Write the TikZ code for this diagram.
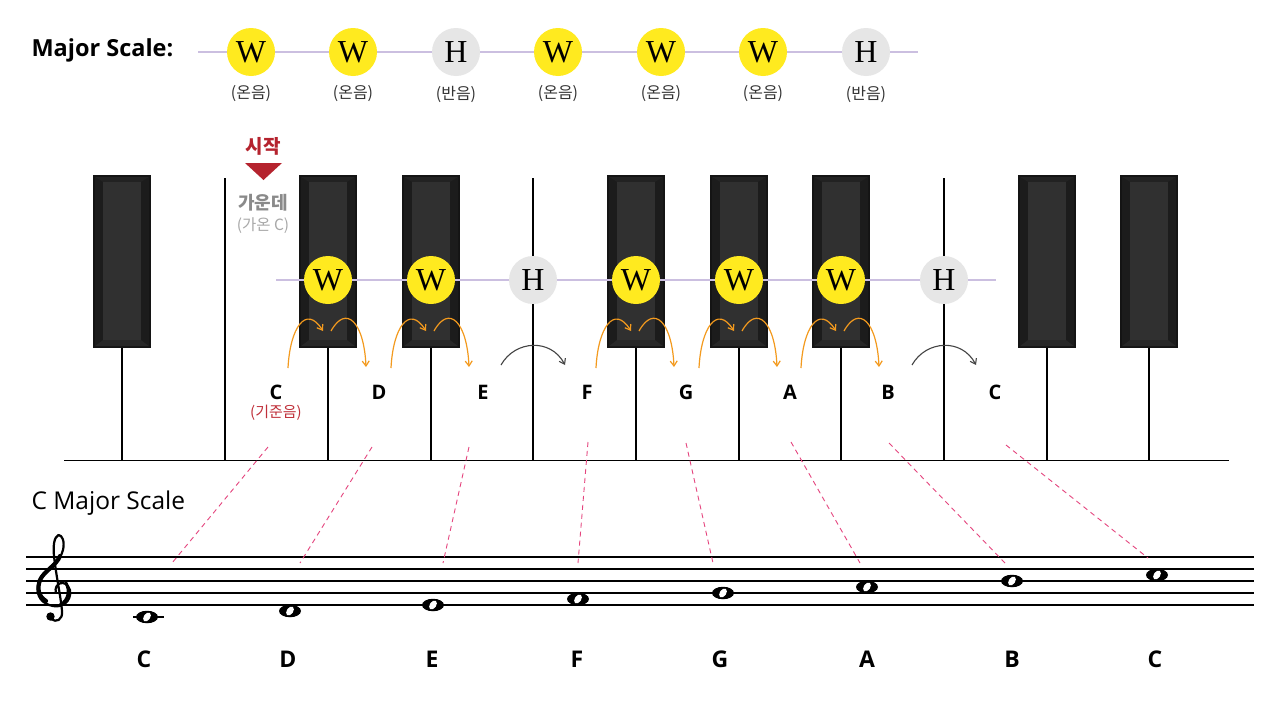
\documentclass[tikz,border=0pt]{standalone}
\usepackage{fontspec}
\setmainfont{Noto Sans CJK KR}
\newfontfamily\serifW{Liberation Serif}
\newfontfamily\lat{Open Sans}
\usetikzlibrary{arrows.meta,shapes.geometric}
\definecolor{yel}{HTML}{FFEA1F}
\definecolor{hgray}{HTML}{E6E6E6}
\definecolor{lav}{HTML}{CBBFE0}
\definecolor{startred}{HTML}{B5232E}
\definecolor{basered}{HTML}{C0303A}
\definecolor{midgray}{HTML}{8A8A8A}
\definecolor{lightgray}{HTML}{A8A8A8}
\definecolor{pinkdash}{HTML}{E5457E}
\definecolor{orng}{HTML}{F39A1E}
\definecolor{arcgray}{HTML}{444444}
\definecolor{keyout}{HTML}{141414}
\definecolor{keyside}{HTML}{1C1C1C}
\definecolor{keytop}{HTML}{222222}
\definecolor{keybot}{HTML}{272727}
\definecolor{keyin}{HTML}{303030}
\definecolor{baseline}{HTML}{8C8C8C}
\tikzset{
  wcirc/.style={circle, minimum size=48pt, inner sep=0pt, fill=yel, font=\serifW\fontsize{32}{32}\selectfont},
  hcirc/.style={circle, minimum size=48pt, inner sep=0pt, fill=hgray, font=\serifW\fontsize{32}{32}\selectfont},
  steplbl/.style={font=\fontsize{16}{18}\selectfont, text=black!80},
  notename/.style={font=\lat\fontsize{20}{22}\selectfont\bfseries},
  staffname/.style={font=\lat\fontsize{23}{25}\selectfont\bfseries},
  keyline/.style={line width=1.6pt, black},
  lavline/.style={lav, line width=1.6pt},
  orarrow/.style={orng, line width=1.2pt, -{Straight Barb[length=5pt,width=7pt]}},
  grarrow/.style={arcgray, line width=1.1pt, -{Straight Barb[length=5pt,width=7pt]}},
  dashlink/.style={pinkdash, line width=0.9pt, dash pattern=on 5pt off 4pt},
  staffline/.style={black, line width=1.2pt},
  notehead/.style={ellipse, fill=black, minimum width=22pt, minimum height=12.5pt, inner sep=0pt},
  clefline/.style={black, line cap=round, line join=round}
}
\begin{document}
\begin{tikzpicture}[x=1pt,y=-1pt]
\useasboundingbox[fill=white] (0,0) rectangle (1280,715);

% ---------- top row ----------
\node[anchor=west, font=\lat\fontsize{23.5}{26}\selectfont\bfseries] (ms) at (28,50) {Major Scale:};
\coordinate (tl) at (198,52);
\coordinate (tr) at (918,52);
\draw[lavline] (tl) -- (tr);
\foreach \x/\s/\t/\l [count=\i] in {251/wcirc/W/온음, 353/wcirc/W/온음, 456/hcirc/H/반음, 558/wcirc/W/온음, 661/wcirc/W/온음, 763/wcirc/W/온음, 866/hcirc/H/반음}{
  \node[\s] (t\i) at (\x,52) {\t};
  \node[steplbl] (tl\i) at (\x,94) {(\l)};
}

% ---------- keyboard ----------
\foreach \x in {225,533,944}{
  \draw[keyline] (\x,178) -- (\x,460);
}
\foreach \x in {122,328,431,636,739,841,1047,1149}{
  \draw[keyline] (\x,345) -- (\x,460);
  \fill[keyout] (\x-29,175) rectangle (\x+29,348);
  \fill[keyside] (\x-27,177) -- (\x-19,182) -- (\x-19,340) -- (\x-27,346) -- cycle;
  \fill[keyside] (\x+27,177) -- (\x+19,182) -- (\x+19,340) -- (\x+27,346) -- cycle;
  \fill[keytop] (\x-27,177) -- (\x+27,177) -- (\x+19,182) -- (\x-19,182) -- cycle;
  \fill[keybot] (\x-27,346) -- (\x+27,346) -- (\x+19,340) -- (\x-19,340) -- cycle;
  \fill[keyin] (\x-19,182) rectangle (\x+19,340);
}
\coordinate (bl) at (64,460);
\coordinate (br) at (1229,460);
\draw[baseline, line width=1pt] (bl) -- (br);

% start marker
\node[font=\fontsize{19}{21}\selectfont\bfseries, text=startred] (start) at (263,146) {시작};
\fill[startred] (245,163) -- (282,163) -- (263.5,180) -- cycle;
\node[font=\fontsize{18}{20}\selectfont\bfseries, text=midgray] (mid) at (263,203) {가운데};
\node[font=\fontsize{15.5}{17}\selectfont, text=lightgray] (midc) at (263,226) {(가온 C)};

% middle row of steps
\coordinate (ml) at (276,280);
\coordinate (mr) at (996,280);
\draw[lavline] (ml) -- (mr);
\foreach \x/\s/\t [count=\i] in {328/wcirc/W, 431/wcirc/W, 533/hcirc/H, 636/wcirc/W, 739/wcirc/W, 841/wcirc/W, 944/hcirc/H}{
  \node[\s] (m\i) at (\x,280) {\t};
}

% orange whole-step arrows
\foreach \x in {328,431,636,739,841}{
  \draw[orarrow] (\x-40,368) .. controls (\x-38,328) and (\x-22,304) .. (\x-5,331);
  \draw[orarrow] (\x+3,331) .. controls (\x+18,304) and (\x+36,322) .. (\x+38,367);
}
% gray half-step arrows
\foreach \x in {533,944}{
  \draw[grarrow] (\x-32,365) .. controls (\x-18,340) and (\x+18,338) .. (\x+32,365);
}

% note names on keyboard
\foreach \x/\n [count=\i] in {276/C,379/D,483/E,587/F,686/G,790/A,888/B,995/C}{
  \node[notename] (k\i) at (\x,392) {\n};
}
\node[font=\fontsize{15}{17}\selectfont, text=basered] (base) at (276,413) {(기준음)};

% ---------- staff ----------
\node[anchor=west, font=\lat\fontsize{24.5}{28}\selectfont] (cms) at (28,503) {C Major Scale};
\foreach \y in {557,569,581,593,605}{
  \draw[staffline] (26,\y) -- (1254,\y);
}
% treble clef drawn as a shape
\draw[clefline, line width=2.2pt]
  (56,593) .. controls (53,583) and (66,578) .. (70,590)
  .. controls (72,602) and (61,608) .. (53,606)
  .. controls (42,604) and (36,596) .. (38,586)
  .. controls (40,572) and (61,562) .. (63,550)
  .. controls (65,541) and (62,535) .. (58.5,535)
  .. controls (54,537) and (53,546) .. (54,556)
  .. controls (56,575) and (61,598) .. (62,611)
  .. controls (63,620) and (56,623) .. (51,619);
\draw[clefline, line width=4.2pt]
  (46,601) .. controls (38,596) and (37,588) .. (40,580)
  .. controls (44,571) and (56,566) .. (60,556);
\draw[clefline, line width=3pt] (66,583) .. controls (70,590) and (69,600) .. (60,605);
\fill[black] (50.5,616.5) circle (4.2pt);
% notes
\draw[black, line width=1.4pt] (133,617) -- (164,617);
\foreach \x/\y [count=\i] in {147/617,290/611,433/605,578/599,723/593,867/587,1012/581,1157/575}{
  \node[notehead] (n\i) at (\x,\y) {};
  \fill[white, rotate around={-35:(n\i.center)}] (n\i.center) ellipse (3.2pt and 5pt);
}
\foreach \x/\n [count=\i] in {144/C,288/D,432/E,577/F,720/G,867/A,1012/B,1155/C}{
  \node[staffname] (b\i) at (\x,659) {\n};
}

% dashed links
\foreach \i/\ax/\ay/\bx/\by in {1/268/447/172/563, 2/372/447/300/563, 3/469/447/443/563, 4/588/442/578/563, 5/686/443/713/563, 6/791/442/860/563, 7/889/443/1005/563, 8/1006/445/1148/558}{
  \coordinate (da\i) at (\ax,\ay);
  \coordinate (db\i) at (\bx,\by);
  \draw[dashlink] (da\i) -- (db\i);
}
\end{tikzpicture}
\end{document}
